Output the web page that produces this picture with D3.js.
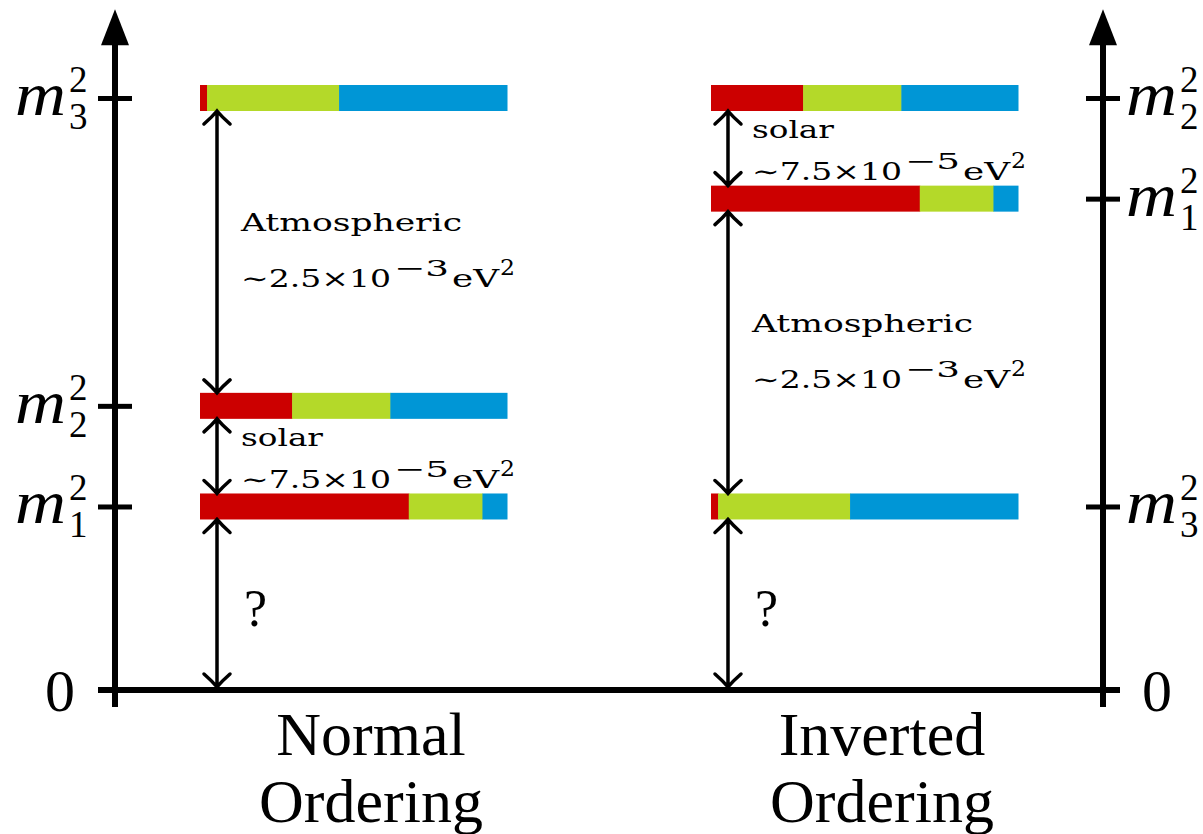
<!DOCTYPE html>
<html>
<head>
<style>
	body { margin: 0; background: #fff; }
	text {
		font-family: "Liberation Serif", "DejaVu Serif", serif;
		fill: #000;
	}
	text.note { font-family: "DejaVu Serif", "Liberation Serif", serif; }
	.axis-line { stroke: #000; stroke-width: 6px; fill: none; }
	.tick line { stroke: #000; stroke-width: 5px; }
	.gap { stroke: #000; stroke-width: 3.5px; fill: none; stroke-linecap: round; }
</style>
<script src="https://d3js.org/d3.v7.min.js"></script>
</head>
<body>
<script>
	// two orderings side by side
	var orderings = ["Normal", "Inverted"];
	var orderingNames = [["Normal", "Ordering"], ["Inverted", "Ordering"]];
	var massStates = ["1", "2", "3"];

	// m_i^2 in schematic units, index = mass state 1,2,3
	var normalLevels = [31, 48, 100];
	var invertedLevels = [83, 100, 31];

	// flavour content of each mass state (nu_e, nu_mu, nu_tau)
	var eFrac   = [0.68, 0.30, 0.023];
	var muFrac  = [0.24, 0.32, 0.43];
	var tauFrac = [0.08, 0.38, 0.547];
	var flavourColours = ["#cc0000", "#b4d929", "#0096d6"];

	// splittings drawn as double arrows: [lower, upper] levels
	var normalGaps = [[0, 31], [31, 48], [48, 100]];
	var normalGapKinds = ["?", "solar", "atm"];
	var invertedGaps = [[0, 31], [31, 83], [83, 100]];
	var invertedGapKinds = ["?", "atm", "solar"];

	var solarText = ["solar", "\u223c7.5\u00d710", "\u22125", "eV", "2"];
	var atmText = ["Atmospheric", "\u223c2.5\u00d710", "\u22123", "eV", "2"];

	var width = 1203, height = 834;

	var svg = d3.select("body").append("svg")
		.attr("width", width)
		.attr("height", height);

	var y = d3.scaleLinear().domain([0, 100]).range([690, 98]);
	var x = d3.scaleBand().domain(orderings).range([200, 1018]).paddingInner(0.3992);
	var frac = d3.scaleLinear().domain([0, 1]).range([0, x.bandwidth()]);
	var axisX = [115, 1103];
	var barH = 26;

	var rows = massStates.map(function(m, i){
		return {state: m, e: eFrac[i], mu: muFrac[i], tau: tauFrac[i]};
	});
	var stacked = d3.stack().keys(["e", "mu", "tau"])(rows);

	// --- axes ---
	function drawAxis(ax, ticks, names, side){
		var g = svg.append("g");
		g.append("line").attr("class", "axis-line")
			.attr("x1", ax).attr("x2", ax)
			.attr("y1", y(0) + 17).attr("y2", y(115) + 30);
		g.append("path")
			.attr("d", "M" + ax + "," + y(115) + "L" + (ax - 14) + "," + (y(115) + 36) +
				"L" + (ax + 14) + "," + (y(115) + 36) + "Z")
			.attr("fill", "#000");

		[d3.axisLeft(y), d3.axisRight(y)].forEach(function(a){
			var t = svg.append("g")
				.attr("transform", "translate(" + ax + ",0)")
				.call(a.tickValues(ticks.slice(1)).tickSize(17).tickSizeOuter(0).tickFormat(""));
			t.select(".domain").remove();
		});

		ticks.forEach(function(v, i){
			var ty = y(v);
			if (v === 0) {
				svg.append("text")
					.attr("x", side < 0 ? ax - 40 : ax + 39)
					.attr("y", ty + 21)
					.attr("text-anchor", side < 0 ? "end" : "start")
					.attr("font-size", 60)
					.text("0");
				return;
			}
			var mx = side < 0 ? ax - 100 : ax + 23;
			svg.append("text")
				.attr("x", mx).attr("y", ty + 17)
				.attr("font-size", 62)
				.attr("font-style", "italic")
				.attr("textLength", 51)
				.attr("lengthAdjust", "spacingAndGlyphs")
				.text("m");
			// superscript and subscript in one text element
			var s = svg.append("text").attr("font-size", 37);
			s.append("tspan").attr("x", mx + 54).attr("y", ty - 6).text("2");
			s.append("tspan").attr("x", mx + 54).attr("y", ty + 31).text(names[i]);
		});
	}

	drawAxis(axisX[0], [0].concat(normalLevels), [""].concat(massStates), -1);
	drawAxis(axisX[1], [0].concat(invertedLevels), [""].concat(massStates), 1);

	// baseline
	svg.append("line").attr("class", "axis-line")
		.attr("x1", axisX[0] - 17).attr("x2", axisX[1] + 17)
		.attr("y1", y(0)).attr("y2", y(0));

	// --- bars ---
	function drawBars(o, levels){
		var g = svg.append("g");
		g.selectAll("g")
			.data(stacked)
			.join("g")
			.attr("fill", function(d, k){ return flavourColours[k]; })
			.selectAll("rect")
			.data(function(d){ return d; })
			.join("rect")
			.attr("x", function(d){ return x(o) + frac(d[0]); })
			.attr("width", function(d){ return Math.max(0, frac(d[1]) - frac(d[0]) + 0.5); })
			.attr("y", function(d, i){ return y(levels[i]) - barH / 2; })
			.attr("height", barH);
	}

	// --- gap arrows and labels ---
	function chevron(cx, cy, dir){
		// dir = -1 points up, +1 points down
		return "M" + (cx - 13) + "," + (cy - dir * 13) +
			"Q" + (cx - 5) + "," + (cy - dir * 6) + " " + cx + "," + cy +
			"Q" + (cx + 5) + "," + (cy - dir * 6) + " " + (cx + 13) + "," + (cy - dir * 13);
	}

	function writeLine(x0, yb, parts){
		// parts: [text, offset, length, raise, size]
		parts.forEach(function(p){
			svg.append("text")
				.attr("class", "note")
				.attr("x", x0 + p[1])
				.attr("y", yb - p[3])
				.attr("font-size", p[4])
				.attr("textLength", p[2])
				.attr("lengthAdjust", "spacingAndGlyphs")
				.text(p[0]);
		});
	}

	function drawGaps(o, gaps, kinds){
		var ax = x(o) + 17;
		var tx = x(o) + 41;
		gaps.forEach(function(gp, i){
			var lo = gp[0] === 0 ? y(0) - 3 : y(gp[0]) - barH / 2;
			var hi = y(gp[1]) + barH / 2;
			svg.append("path").attr("class", "gap")
				.attr("d", "M" + ax + "," + hi + "L" + ax + "," + lo +
					chevron(ax, hi, -1) + chevron(ax, lo, 1));

			var kind = kinds[i];
			if (kind === "?") {
				svg.append("text")
					.attr("x", tx + 3).attr("y", (hi + lo) / 2 + 23)
					.attr("font-size", 52)
					.text("?");
				return;
			}
			var txt = kind === "solar" ? solarText : atmText;
			var l1 = kind === "solar" ? 27 : 120;
			var l2 = kind === "solar" ? 69 : 176;
			writeLine(tx, hi + l1, [[txt[0], 0, kind === "solar" ? 82 : 221, 0, 24]]);
			writeLine(tx, hi + l2, [
				[txt[1], 0, 150, 0, 24],
				[txt[2], 153, 55, 11, 23],
				[txt[3], 211, 47, 0, 24],
				[txt[4], 259, 15, 12, 22]
			]);
		});
	}

	drawBars("Normal", normalLevels);
	drawBars("Inverted", invertedLevels);
	drawGaps("Normal", normalGaps, normalGapKinds);
	drawGaps("Inverted", invertedGaps, invertedGapKinds);

	// --- ordering names under the baseline ---
	orderings.forEach(function(o, i){
		orderingNames[i].forEach(function(word, j){
			svg.append("text")
				.attr("x", x(o) + 171)
				.attr("y", y(0) + 65 + j * 67)
				.attr("text-anchor", "middle")
				.attr("font-size", 62)
				.text(word);
		});
	});
</script>
</body>
</html>
